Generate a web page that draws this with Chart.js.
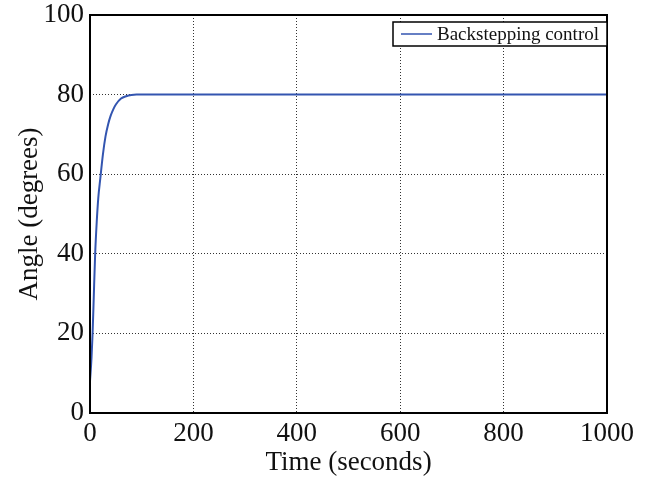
<!DOCTYPE html>
<html>
<head>
<meta charset="utf-8">
<script src="https://cdn.jsdelivr.net/npm/chart.js@4"></script>
<style>
  html, body { margin: 0; padding: 0; background: #fff; }
  #wrap { width: 649px; height: 479px; }
</style>
</head>
<body>
<div id="wrap"><canvas id="lineChart" width="649" height="479"></canvas></div>
<script>
// values
const times  = [0, 3, 5, 7, 10, 13, 16, 20, 25, 30, 35, 40, 45, 50, 60, 70, 80, 90, 200, 400, 600, 800, 1000];
const angles = [8, 14, 20, 28, 40, 48, 54, 59, 65, 69.5, 72.5, 74.7, 76.3, 77.5, 79, 79.6, 79.9, 80, 80, 80, 80, 80, 80];
const xTicks = [0, 200, 400, 600, 800, 1000];
const yTicks = [0, 20, 40, 60, 80, 100];
const seriesName = 'Backstepping control';

const FONT = '"Liberation Serif", "Times New Roman", serif';
const lineColor = '#3355b0';

// frame around the plot + legend box, matlab style
const framePlugin = {
  id: 'frame',
  afterDraw(chart) {
    const { ctx, chartArea: a } = chart;
    ctx.save();
    ctx.strokeStyle = '#000';
    ctx.lineWidth = 2;
    ctx.strokeRect(a.left, a.top, a.right - a.left, a.bottom - a.top);

    // legend
    const w = 214, h = 24;
    const x = a.right - w, y = a.top + 7;
    ctx.fillStyle = '#fff';
    ctx.fillRect(x, y, w, h);
    ctx.strokeStyle = '#000';
    ctx.lineWidth = 1.5;
    ctx.strokeRect(x, y, w, h);
    ctx.strokeStyle = lineColor;
    ctx.lineWidth = 1.5;
    ctx.beginPath();
    ctx.moveTo(x + 8, y + h / 2);
    ctx.lineTo(x + 39, y + h / 2);
    ctx.stroke();
    ctx.fillStyle = '#111';
    ctx.font = '19px ' + FONT;
    ctx.textBaseline = 'middle';
    ctx.fillText(seriesName, x + 44, y + h / 2 + 1);
    ctx.restore();
  }
};

new Chart(document.getElementById('lineChart'), {
  type: 'scatter',
  data: {
    datasets: [{
      label: seriesName,
      data: times.map((t, i) => ({ x: t, y: angles[i] })),
      showLine: true,
      borderColor: lineColor,
      borderWidth: 2,
      pointRadius: 0,
      cubicInterpolationMode: 'monotone'
    }]
  },
  options: {
    responsive: false,
    animation: false,
    layout: { padding: { top: 0, right: 42, left: 0, bottom: 0 } },
    plugins: {
      legend: { display: false },
      tooltip: { enabled: false }
    },
    scales: {
      x: {
        type: 'linear',
        min: 0,
        max: 1000,
        afterBuildTicks: s => { s.ticks = xTicks.map(v => ({ value: v })); },
        afterFit: s => { s.height = 66; },
        grid: {
          color: '#333',
          lineWidth: 1,
          drawTicks: false
        },
        border: { display: false, dash: [1, 2] },
        ticks: {
          color: '#111',
          font: { family: FONT, size: 27 },
          padding: 5,
          maxRotation: 0,
          callback: v => String(v)
        },
        title: {
          display: true,
          text: 'Time (seconds)',
          color: '#111',
          font: { family: FONT, size: 27 },
          padding: { top: 0, bottom: 0 }
        }
      },
      y: {
        min: 0,
        max: 100,
        afterBuildTicks: s => { s.ticks = yTicks.map(v => ({ value: v })); },
        afterFit: s => { s.width = 90; s.paddingTop = 15; },
        grid: {
          color: '#333',
          lineWidth: 1,
          drawTicks: false
        },
        border: { display: false, dash: [1, 2] },
        ticks: {
          color: '#111',
          font: { family: FONT, size: 27 },
          padding: 6,
          callback: v => String(v)
        },
        title: {
          display: true,
          text: 'Angle (degrees)',
          color: '#111',
          font: { family: FONT, size: 27 },
          padding: { top: 14, bottom: 0 }
        }
      }
    }
  },
  plugins: [framePlugin]
});
</script>
</body>
</html>
